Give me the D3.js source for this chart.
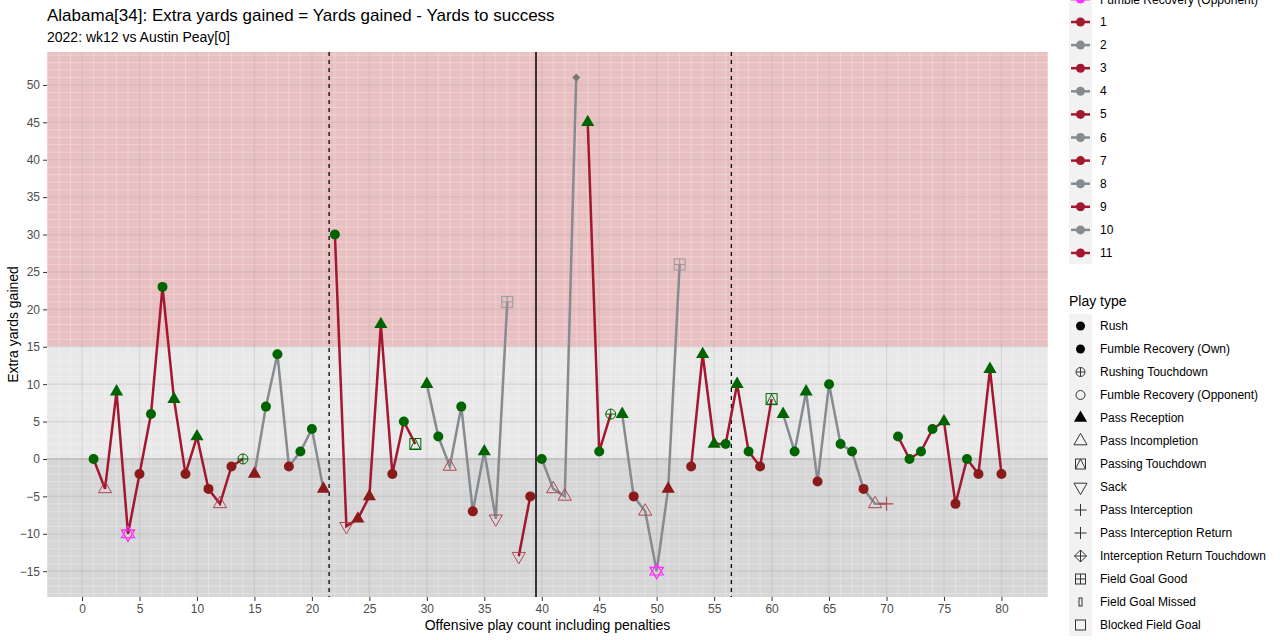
<!DOCTYPE html>
<html>
<head>
<meta charset="utf-8">
<script src="https://cdn.jsdelivr.net/npm/d3@7"></script>
<style>
  body { margin: 0; background: white; }
  text { font-family: "Liberation Sans", Arial, sans-serif; }
</style>
</head>
<body>
<svg id="chart"></svg>
<script>
// play number, extra yards, play type, success flag, drive
const plays  = [1,2,3,4,5,6,7,8,9,10,11,12,13,14,15,16,17,18,19,20,21,22,23,24,25,26,27,28,29,30,31,32,33,34,35,36,37,38,39,40,41,42,43,44,45,46,47,48,49,50,51,52,53,54,55,56,57,58,59,60,61,62,63,64,65,66,67,68,69,70,71,72,73,74,75,76,77,78,79,80]
const extra  = [0,-4,9,-10,-2,6,23,8,-2,3,-4,-6,-1,0,-2,7,14,-1,1,4,-4,30,-9,-8,-5,18,-2,5,2,10,3,-1,7,-7,1,-8,21,-13,-5,0,-4,-5,51,45,1,6,6,-5,-7,-15,-4,26,-1,14,2,2,10,1,-1,8,6,1,9,-3,10,2,1,-4,-6,-6,3,0,1,4,5,-6,0,-2,12,-2]
const types  = ["R","I","P","S","R","R","R","P","R","P","R","I","R","RTD","P","R","R","R","R","R","P","R","S","P","P","P","R","R","PTD","P","R","I","R","R","P","S","FG","S","R","R","I","I","D","P","R","RTD","P","R","I","S","P","FG","R","P","P","R","P","R","R","PTD","P","R","P","R","R","R","R","R","I","INT","R","R","R","R","P","R","R","R","P","R"]
const fumbleOpp = [4, 50]
const drives = [1,1,1,1,1,1,1,1,1,1,1,1,1,1,2,2,2,2,2,2,2,3,3,3,3,3,3,3,3,4,4,4,4,4,4,4,4,5,5,6,6,6,6,7,7,7,8,8,8,8,8,8,9,9,9,9,9,9,9,9,10,10,10,10,10,10,10,10,10,10,11,11,11,11,11,11,11,11,11,11]
const driveLabels = ["1","2","3","4","5","6","7","8","9","10","11"]
const playTypeLabels = ["Rush","Fumble Recovery (Own)","Rushing Touchdown","Fumble Recovery (Opponent)","Pass Reception","Pass Incompletion","Passing Touchdown","Sack","Pass Interception","Pass Interception Return","Interception Return Touchdown","Field Goal Good","Field Goal Missed","Blocked Field Goal"]
const xTicks = d3.range(0, 81, 5)
const yTicks = d3.range(-15, 51, 5)
const quarterLines = [21.5, 56.5]
const halfLine = 39.5

const W = 1280, H = 640
const svg = d3.select("#chart").attr("width", W).attr("height", H)
const m = {l: 47, r: 1048, t: 52, b: 597}

const x = d3.scaleLinear().domain([-3.05, 84.05]).range([m.l, m.r])
const y = d3.scaleLinear().domain([-18.45, 54.4]).range([m.b, m.t])

const GREEN = "#006400", RED = "#8b1a1a", CRIMSON = "#a3172f", GREY = "#858b91"
const driveColor = d => d % 2 ? CRIMSON : GREY

//background bands
svg.append("rect").attr("x", m.l).attr("y", y(54.4)).attr("width", m.r - m.l)
   .attr("height", y(15) - y(54.4)).attr("fill", "#e9c0c1")
svg.append("rect").attr("x", m.l).attr("y", y(15)).attr("width", m.r - m.l)
   .attr("height", y(0) - y(15)).attr("fill", "#e8e8e8")
svg.append("rect").attr("x", m.l).attr("y", y(0)).attr("width", m.r - m.l)
   .attr("height", m.b - y(0)).attr("fill", "#d6d6d6")

//fine grid
d3.range(-18, 55, 1).forEach(v => {
  svg.append("line").attr("x1", m.l).attr("x2", m.r).attr("y1", y(v)).attr("y2", y(v))
     .attr("stroke", "white").attr("stroke-opacity", 0.35).attr("stroke-width", 0.8)
})
d3.range(-3, 85, 1).forEach(v => {
  svg.append("line").attr("y1", m.t).attr("y2", m.b).attr("x1", x(v)).attr("x2", x(v))
     .attr("stroke", "white").attr("stroke-opacity", 0.35).attr("stroke-width", 0.8)
})
//major grid
yTicks.forEach(v => {
  svg.append("line").attr("x1", m.l).attr("x2", m.r).attr("y1", y(v)).attr("y2", y(v))
     .attr("stroke", "#000").attr("stroke-opacity", v === 0 ? 0.22 : 0.1).attr("stroke-width", 1.2)
})
xTicks.forEach(v => {
  svg.append("line").attr("y1", m.t).attr("y2", m.b).attr("x1", x(v)).attr("x2", x(v))
     .attr("stroke", "#000").attr("stroke-opacity", 0.1).attr("stroke-width", 1.2)
})

//quarter and half lines
quarterLines.forEach(v => {
  svg.append("line").attr("x1", x(v)).attr("x2", x(v)).attr("y1", m.t).attr("y2", m.b)
     .attr("stroke", "black").attr("stroke-width", 1.3).attr("stroke-dasharray", "4,4")
})
svg.append("line").attr("x1", x(halfLine)).attr("x2", x(halfLine)).attr("y1", m.t).attr("y2", m.b)
   .attr("stroke", "black").attr("stroke-width", 1.5)

//axes
const xAxis = svg.append("g").attr("transform", `translate(0,${m.b})`)
   .call(d3.axisBottom(x).tickValues(xTicks).tickSize(4).tickPadding(3))
const yAxis = svg.append("g").attr("transform", `translate(${m.l},0)`)
   .call(d3.axisLeft(y).tickValues(yTicks).tickSize(4).tickPadding(3))
;[xAxis, yAxis].forEach(a => {
  a.select(".domain").remove()
  a.selectAll("line").attr("stroke", "#333")
  a.selectAll("text").attr("fill", "#4d4d4d").attr("font-size", 12)
})

//drive lines
const pts = plays.map((p, i) => ({p, v: extra[i], t: types[i], d: drives[i]}))
d3.groups(pts, d => d.d).forEach(([d, arr]) => {
  svg.append("path").datum(arr)
     .attr("d", d3.line().x(e => x(e.p)).y(e => y(e.v)))
     .attr("fill", "none").attr("stroke", driveColor(d)).attr("stroke-width", 2.5)
})

//markers
const tri = d3.symbol().type(d3.symbolTriangle).size(75)
const sq = 5.5
function marker(g, t, col, ok) {
  if (t === "R") {
    g.append("circle").attr("r", 5).attr("fill", col)
  } else if (t === "P") {
    g.append("path").attr("d", tri()).attr("fill", col)
  } else if (t === "I") {
    g.append("path").attr("d", tri()).attr("fill", "none").attr("stroke", "#b0474f").attr("stroke-width", 1)
  } else if (t === "S") {
    g.append("path").attr("d", tri()).attr("transform", "rotate(180)")
     .attr("fill", "none").attr("stroke", "#b0474f").attr("stroke-width", 1)
  } else if (t === "RTD") {
    g.append("circle").attr("r", 5).attr("fill", "none").attr("stroke", GREEN)
    g.append("path").attr("d", "M-5,0H5M0,-5V5").attr("stroke", GREEN)
  } else if (t === "PTD") {
    g.append("rect").attr("x", -sq).attr("y", -sq).attr("width", 2 * sq).attr("height", 2 * sq)
     .attr("fill", "none").attr("stroke", GREEN)
    g.append("path").attr("d", "M-5,5L0,-5L5,5Z").attr("fill", "none").attr("stroke", GREEN)
  } else if (t === "FG") {
    g.append("rect").attr("x", -sq).attr("y", -sq).attr("width", 2 * sq).attr("height", 2 * sq)
     .attr("fill", "none").attr("stroke", "#999")
    g.append("path").attr("d", "M-5.5,0H5.5M0,-5.5V5.5").attr("stroke", "#999")
  } else if (t === "INT") {
    g.append("path").attr("d", "M-7,0H7M0,-7V7").attr("stroke", "#b0474f").attr("stroke-width", 1.2)
  } else if (t === "D") {
    g.append("path").attr("d", "M0,-4L4,0L0,4L-4,0Z").attr("fill", "#777")
  }
}
pts.forEach(e => {
  const ok = e.v >= 0
  const g = svg.append("g").attr("transform", `translate(${x(e.p)},${y(e.v)})`)
  marker(g, e.t, ok ? GREEN : RED, ok)
  if (fumbleOpp.includes(e.p)) {
    g.append("path").attr("d", tri()).attr("fill", "none").attr("stroke", "#ff33ff").attr("stroke-width", 1.2)
    g.append("path").attr("d", tri()).attr("transform", "rotate(180)")
     .attr("fill", "none").attr("stroke", "#ff33ff").attr("stroke-width", 1.2)
  }
})

//titles
svg.append("text").attr("x", 47).attr("y", 21).attr("font-size", 17).text("Alabama[34]: Extra yards gained = Yards gained - Yards to success")
svg.append("text").attr("x", 47).attr("y", 42).attr("font-size", 14).text("2022: wk12 vs Austin Peay[0]")
svg.append("text").attr("x", (m.l + m.r) / 2).attr("y", 630).attr("text-anchor", "middle")
   .attr("font-size", 14).text("Offensive play count including penalties")
svg.append("text").attr("transform", `translate(18,${(m.t + m.b) / 2}) rotate(-90)`)
   .attr("text-anchor", "middle").attr("font-size", 14).text("Extra yards gained")

//legend: drives
const lx = 1070
const lg = svg.append("g")
svg.append("rect").attr("x", lx - 1).attr("y", 0).attr("width", 23).attr("height", 264).attr("fill", "#f2f2f2")
svg.append("line").attr("x1", lx + 1).attr("x2", lx + 20).attr("y1", -1).attr("y2", -1).attr("stroke", "#ff33ff").attr("stroke-width", 3)
svg.append("circle").attr("cx", lx + 10.5).attr("cy", -1).attr("r", 4.5).attr("fill", "#ff33ff")
svg.append("text").attr("x", lx + 30).attr("y", 4).attr("font-size", 12).text("Fumble Recovery (Opponent)")
driveLabels.forEach((d, i) => {
  const yy = 22 + i * 23.1
  const c = driveColor(+d)
  svg.append("line").attr("x1", lx + 1).attr("x2", lx + 20).attr("y1", yy).attr("y2", yy).attr("stroke", c).attr("stroke-width", 2.5)
  svg.append("circle").attr("cx", lx + 10.5).attr("cy", yy).attr("r", 4.5).attr("fill", c)
  svg.append("text").attr("x", lx + 30).attr("y", yy + 4).attr("font-size", 12).text(d)
})

//legend: play type
svg.append("text").attr("x", 1069).attr("y", 306).attr("font-size", 14).text("Play type")
svg.append("rect").attr("x", lx - 1).attr("y", 314).attr("width", 23).attr("height", 322).attr("fill", "#f2f2f2")
const legendKeys = ["R","R","RTD","FO","P","I","PTD","S","INT","INT","IRT","FG","FGM","BFG"]
legendKeys.forEach((k, i) => {
  const yy = 326 + i * 23
  const g = svg.append("g").attr("transform", `translate(${lx + 10.5},${yy})`)
  const blk = "#000", out = "#333"
  if (k === "R") g.append("circle").attr("r", 4.5).attr("fill", blk)
  else if (k === "RTD") { g.append("circle").attr("r", 4.5).attr("fill", "none").attr("stroke", out); g.append("path").attr("d", "M-4.5,0H4.5M0,-4.5V4.5").attr("stroke", out) }
  else if (k === "FO") g.append("circle").attr("r", 4.5).attr("fill", "none").attr("stroke", out)
  else if (k === "P") g.append("path").attr("d", tri()).attr("fill", blk)
  else if (k === "I") g.append("path").attr("d", tri()).attr("fill", "none").attr("stroke", out)
  else if (k === "PTD") { g.append("rect").attr("x", -5).attr("y", -5).attr("width", 10).attr("height", 10).attr("fill", "none").attr("stroke", out); g.append("path").attr("d", "M-5,5L0,-5L5,5").attr("fill", "none").attr("stroke", out) }
  else if (k === "S") g.append("path").attr("d", tri()).attr("transform", "rotate(180)").attr("fill", "none").attr("stroke", out)
  else if (k === "INT") g.append("path").attr("d", "M-6,0H6M0,-6V6").attr("stroke", out)
  else if (k === "IRT") { g.append("path").attr("d", "M0,-6L6,0L0,6L-6,0Z").attr("fill", "none").attr("stroke", out); g.append("path").attr("d", "M-6,0H6M0,-6V6").attr("stroke", out) }
  else if (k === "FG") { g.append("rect").attr("x", -5).attr("y", -5).attr("width", 10).attr("height", 10).attr("fill", "none").attr("stroke", out); g.append("path").attr("d", "M-5,0H5M0,-5V5").attr("stroke", out) }
  else if (k === "FGM") g.append("rect").attr("x", -1.5).attr("y", -4).attr("width", 3).attr("height", 8).attr("fill", "none").attr("stroke", out)
  else if (k === "BFG") g.append("rect").attr("x", -5).attr("y", -5).attr("width", 10).attr("height", 10).attr("fill", "none").attr("stroke", out)
  svg.append("text").attr("x", lx + 30).attr("y", yy + 4).attr("font-size", 12).text(playTypeLabels[i])
})
</script>
</body>
</html>
